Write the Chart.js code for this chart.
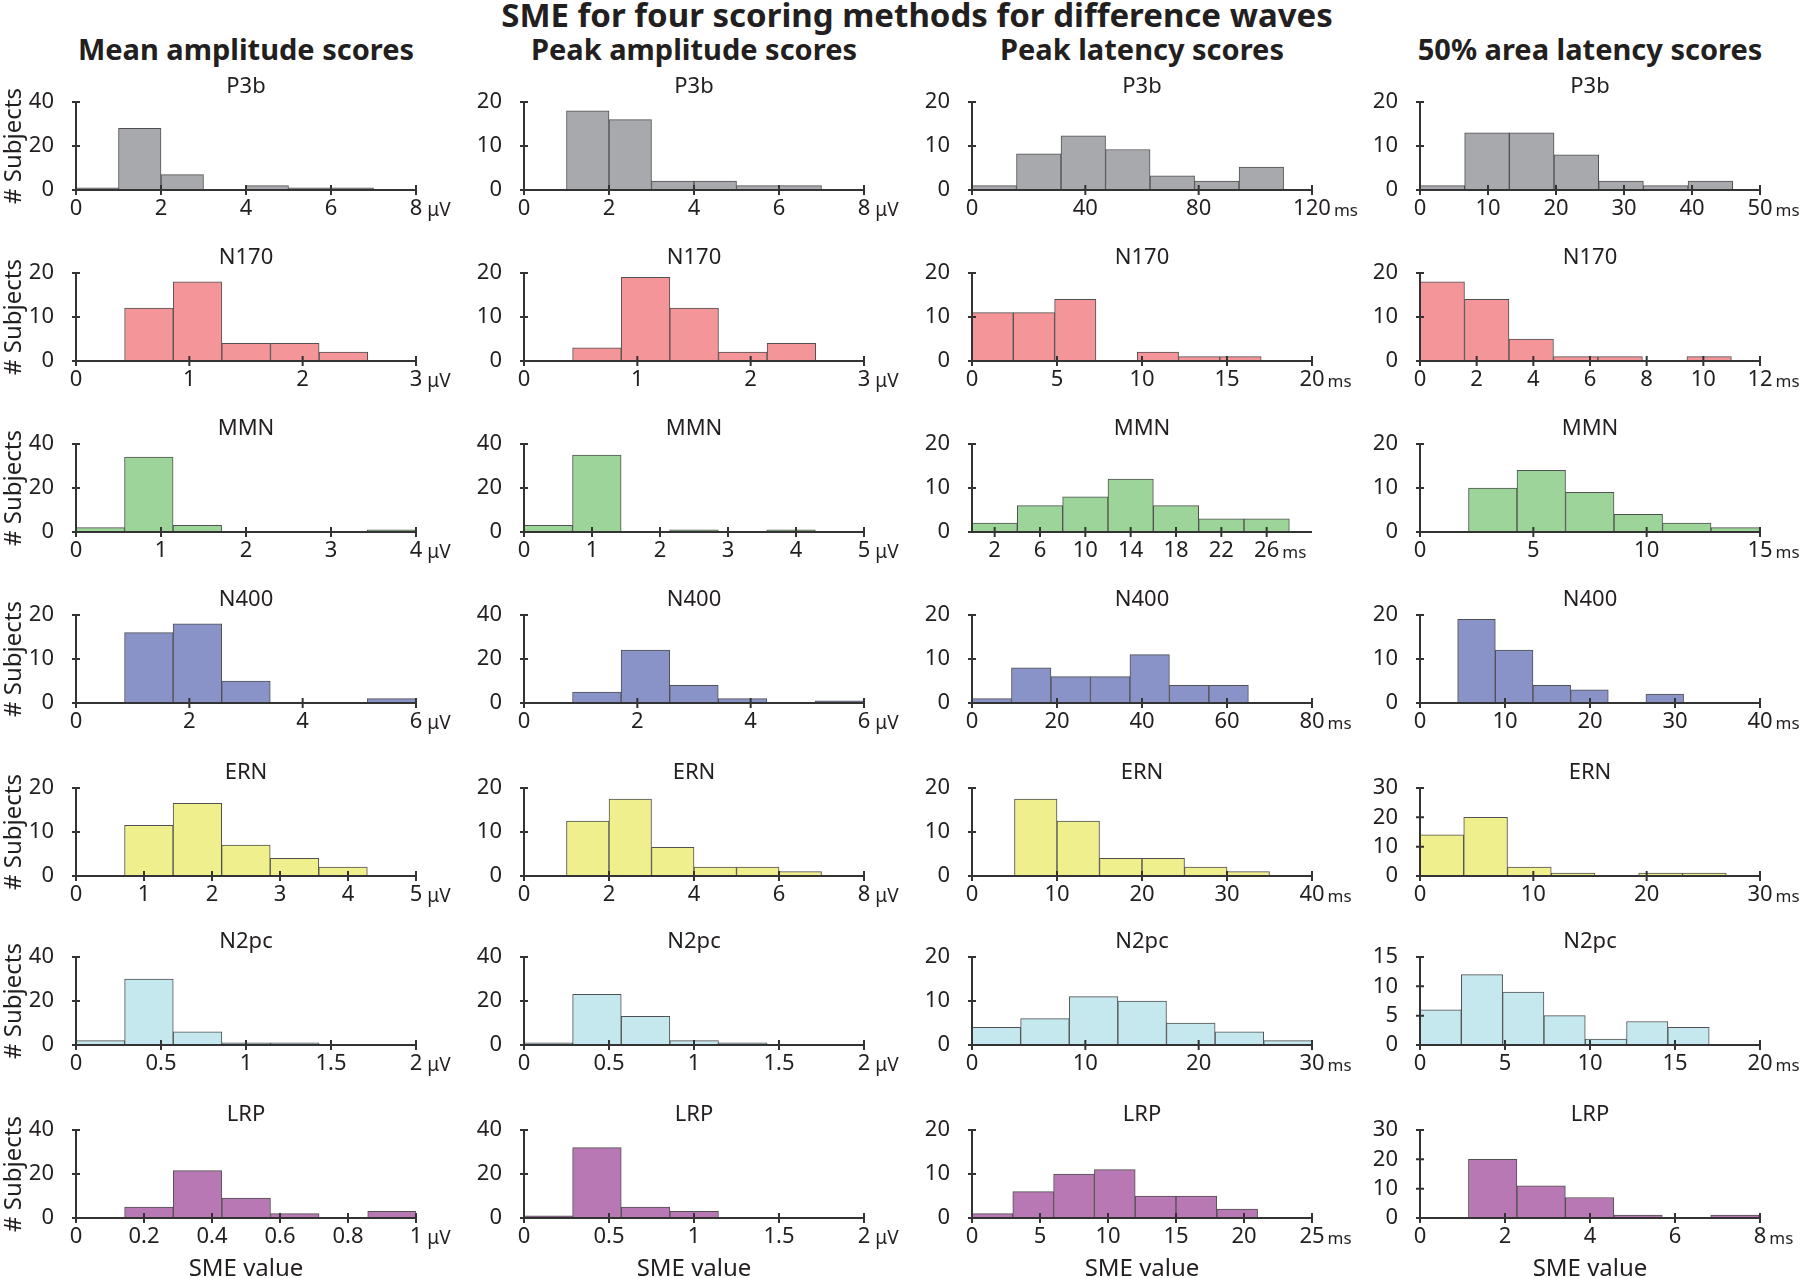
<!DOCTYPE html>
<html>
<head>
<meta charset="utf-8">
<script src="https://cdn.jsdelivr.net/npm/chart.js@4.4.0/dist/chart.umd.min.js"></script>
<style>
  body { margin: 0; background: #fff; }
  #page { position: relative; width: 1800px; height: 1278px; overflow: hidden;
          font-family: 'Noto Sans', sans-serif; color: #231f20; }
  .lbl { position: absolute; text-align: center; white-space: nowrap; font-weight: bold; }
  .panel { position: absolute; }
</style>
</head>
<body>
<div id="page">
  <div class="lbl" style="left:317px; top:-2px; width:1200px; font-size:33px; line-height:33px;">SME for four scoring methods for difference waves</div>
</div>
<script>
/* =======================
   Data
======================= */
const components = ["P3b", "N170", "MMN", "N400", "ERN", "N2pc", "LRP"];
const componentColors = ["#a7a9ac", "#f4959a", "#9dd49a", "#8a93c8", "#f0ef8d", "#c4e8ee", "#b878b3"];
const methods = ["Mean amplitude scores", "Peak amplitude scores", "Peak latency scores", "50% area latency scores"];
const methodUnits = ["μV", "μV", "ms", "ms"];

// Mean amplitude (bins start at 0)
const meanAmpBinWidth = [1, 0.429, 0.571, 0.857, 0.714, 0.286, 0.143];
const meanAmpCounts = [
  [1, 28, 7, 0, 2, 1, 1],
  [0, 12, 18, 4, 4, 2, 0],
  [2, 34, 3, 0, 0, 0, 1],
  [0, 16, 18, 5, 0, 0, 1],
  [0, 11.5, 16.5, 7, 4, 2, 0],
  [2, 30, 6, 1, 1, 0, 0],
  [0, 5, 21.5, 9, 2, 0, 3]
];
const meanAmpXMax = [8, 3, 4, 6, 5, 2, 1];
const meanAmpXTicks = [[0, 2, 4, 6, 8], [0, 1, 2, 3], [0, 1, 2, 3, 4], [0, 2, 4, 6], [0, 1, 2, 3, 4, 5], [0, 0.5, 1, 1.5, 2], [0, 0.2, 0.4, 0.6, 0.8, 1]];
const meanAmpYMax = [40, 20, 40, 20, 20, 40, 40];
const meanAmpYStep = [20, 10, 20, 10, 10, 20, 20];

// Peak amplitude
const peakAmpBinWidth = [1, 0.429, 0.714, 0.857, 1, 0.286, 0.286];
const peakAmpCounts = [
  [0, 18, 16, 2, 2, 1, 1],
  [0, 3, 19, 12, 2, 4, 0],
  [3, 35, 0, 1, 0, 1, 0],
  [0, 5, 24, 8, 2, 0, 1],
  [0, 12.5, 17.5, 6.5, 2, 2, 1],
  [1, 23, 13, 2, 1, 0, 0],
  [1, 32, 5, 3, 0, 0, 0]
];
const peakAmpXMax = [8, 3, 5, 6, 8, 2, 2];
const peakAmpXTicks = [[0, 2, 4, 6, 8], [0, 1, 2, 3], [0, 1, 2, 3, 4, 5], [0, 2, 4, 6], [0, 2, 4, 6, 8], [0, 0.5, 1, 1.5, 2], [0, 0.5, 1, 1.5, 2]];
const peakAmpYMax = [20, 20, 40, 40, 20, 40, 40];
const peakAmpYStep = [10, 10, 20, 20, 10, 20, 20];

// Peak latency
const peakLatBinWidth = [15.71, 2.43, 4, 9.29, 5, 4.29, 3];
const peakLatCounts = [
  [1, 8.2, 12.3, 9.2, 3.2, 2, 5.2],
  [11, 11, 14, 0, 2, 1, 1],
  [2, 6, 8, 12, 6, 3, 3],
  [1, 8, 6, 6, 11, 4, 4],
  [0, 17.5, 12.5, 4, 4, 2, 1],
  [4, 6, 11, 10, 5, 3, 1],
  [1, 6, 10, 11, 5, 5, 2]
];
const peakLatXMax = [120, 20, 30, 80, 40, 30, 25];
const peakLatXTicks = [[0, 40, 80, 120], [0, 5, 10, 15, 20], [2, 6, 10, 14, 18, 22, 26], [0, 20, 40, 60, 80], [0, 10, 20, 30, 40], [0, 10, 20, 30], [0, 5, 10, 15, 20, 25]];
const peakLatYMax = [20, 20, 20, 20, 20, 20, 20];
const peakLatYStep = [10, 10, 10, 10, 10, 10, 10];

// 50% area latency
const areaLatBinWidth = [6.57, 1.57, 2.14, 4.43, 3.86, 2.43, 1.14];
const areaLatCounts = [
  [1, 13, 13, 8, 2, 1, 2],
  [18, 14, 5, 1, 1, 0, 1],
  [0, 10, 14, 9, 4, 2, 1],
  [0, 19, 12, 4, 3, 0, 2],
  [14, 20, 3, 1, 0, 1, 1],
  [6, 12, 9, 5, 1, 4, 3],
  [0, 20, 11, 7, 1, 0, 1]
];
const areaLatXMax = [50, 12, 15, 40, 30, 20, 8];
const areaLatXTicks = [[0, 10, 20, 30, 40, 50], [0, 2, 4, 6, 8, 10, 12], [0, 5, 10, 15], [0, 10, 20, 30, 40], [0, 10, 20, 30], [0, 5, 10, 15, 20], [0, 2, 4, 6, 8]];
const areaLatYMax = [20, 20, 20, 20, 30, 15, 30];
const areaLatYStep = [10, 10, 10, 10, 10, 5, 10];

const methodData = [
  { binWidth: meanAmpBinWidth, counts: meanAmpCounts, xMax: meanAmpXMax, xTicks: meanAmpXTicks, yMax: meanAmpYMax, yStep: meanAmpYStep },
  { binWidth: peakAmpBinWidth, counts: peakAmpCounts, xMax: peakAmpXMax, xTicks: peakAmpXTicks, yMax: peakAmpYMax, yStep: peakAmpYStep },
  { binWidth: peakLatBinWidth, counts: peakLatCounts, xMax: peakLatXMax, xTicks: peakLatXTicks, yMax: peakLatYMax, yStep: peakLatYStep },
  { binWidth: areaLatBinWidth, counts: areaLatCounts, xMax: areaLatXMax, xTicks: areaLatXTicks, yMax: areaLatYMax, yStep: areaLatYStep }
];

/* =======================
   Layout
======================= */
const TEXT_COLOR = "#231f20";
const AXIS_COLOR = "#333333";
const BAR_EDGE = "#505050";
const FONT = "'Noto Sans', sans-serif";
const COL_LEFT = [0, 448, 896, 1344];
const PLOT_TOP = [102, 273, 444, 615, 788, 957, 1130];
const PLOT_H = 88;
const PLOT_W = 340;
const Y_W = 76;
const TOP_PAD = 42;
const CANVAS_W = 480;
const TICK_FONT = 22;

Chart.defaults.font.family = FONT;
Chart.defaults.color = TEXT_COLOR;
Chart.defaults.animation = false;

const page = document.getElementById("page");

// column headings
methods.forEach((m, c) => {
  const d = document.createElement("div");
  d.className = "lbl";
  d.textContent = m;
  d.style.left = (COL_LEFT[c] + Y_W + PLOT_W / 2 - 250) + "px";
  d.style.width = "500px";
  d.style.top = "34px";
  d.style.fontSize = "29px";
  d.style.lineHeight = "29px";
  page.appendChild(d);
});

// panel title, axes with ticks crossing the line (drawn over the bars), unit text
function makeAxesPlugin(title, unit) {
  return {
    id: "crossAxes",
    afterDatasetsDraw(chart) {
      const { ctx, chartArea: a, scales: { x, y } } = chart;
      const y0 = y.getPixelForValue(0);
      ctx.save();
      ctx.strokeStyle = AXIS_COLOR;
      ctx.lineWidth = 2;
      ctx.beginPath();
      ctx.moveTo(a.left - 1, y0);
      ctx.lineTo(a.right, y0);
      ctx.moveTo(a.left, a.top);
      ctx.lineTo(a.left, y0);
      x.ticks.forEach(t => {
        const p = x.getPixelForValue(t.value);
        ctx.moveTo(p, y0 - 5);
        ctx.lineTo(p, y0 + 5);
      });
      y.ticks.forEach(t => {
        const p = y.getPixelForValue(t.value);
        ctx.moveTo(a.left - 4, p);
        ctx.lineTo(a.left + 4, p);
      });
      ctx.stroke();

      ctx.fillStyle = TEXT_COLOR;
      ctx.textBaseline = "middle";

      // panel title
      ctx.font = "22px " + FONT;
      ctx.textAlign = "center";
      ctx.fillText(title, (a.left + a.right) / 2, a.top - 15);

      // unit after the last tick label
      const last = x.ticks[x.ticks.length - 1];
      const px = x.getPixelForValue(last.value);
      ctx.font = TICK_FONT + "px " + FONT;
      const w = ctx.measureText(String(last.value)).width;
      const isMs = unit === "ms";
      ctx.font = (isMs ? 17 : 19) + "px " + FONT;
      ctx.textAlign = "left";
      ctx.fillText(unit, px + w / 2 + (isMs ? 3 : 5), y0 + 6 + 13 + 2);
      ctx.restore();
    }
  };
}

function makePanel(col, row) {
  const m = methodData[col];
  const isLast = row === components.length - 1;
  const xH = isLast ? 66 : 45;

  const div = document.createElement("div");
  div.className = "panel";
  div.style.left = COL_LEFT[col] + "px";
  div.style.top = (PLOT_TOP[row] - TOP_PAD) + "px";
  const canvas = document.createElement("canvas");
  canvas.width = CANVAS_W;
  canvas.height = TOP_PAD + PLOT_H + xH;
  div.appendChild(canvas);
  page.appendChild(div);

  const w = m.binWidth[row];
  const bars = m.counts[row].map((c, i) => ({ x: (i + 0.5) * w, y: c }));

  new Chart(canvas, {
    type: "bar",
    data: {
      datasets: [{
        data: bars,
        backgroundColor: componentColors[row],
        borderColor: BAR_EDGE,
        borderWidth: 1,
        barThickness: "flex",
        barPercentage: 1,
        categoryPercentage: 1
      }]
    },
    options: {
      responsive: false,
      layout: { padding: { left: 0, right: CANVAS_W - Y_W - PLOT_W, top: TOP_PAD, bottom: 0 } },
      plugins: {
        legend: { display: false },
        tooltip: { enabled: false },
        title: { display: false }
      },
      scales: {
        x: {
          type: "linear",
          min: 0,
          max: m.xMax[row],
          offset: false,
          grid: { display: false, drawTicks: false, offset: false },
          border: { display: false },
          afterBuildTicks: s => { s.ticks = m.xTicks[row].map(v => ({ value: v })); },
          ticks: { font: { size: TICK_FONT }, padding: 6, maxRotation: 0, autoSkip: false, callback: v => String(v) },
          title: { display: isLast, text: "SME value", font: { size: 24 }, padding: 0 },
          afterFit: s => { s.height = xH; }
        },
        y: {
          min: 0,
          max: m.yMax[row],
          grid: { display: false, drawTicks: false },
          border: { display: false },
          ticks: { stepSize: m.yStep[row], autoSkip: false, font: { size: TICK_FONT }, padding: 22, callback: v => String(v) },
          title: { display: col === 0, text: "# Subjects", font: { size: 24 }, padding: 0 },
          afterFit: s => { s.width = Y_W; }
        }
      }
    },
    plugins: [makeAxesPlugin(components[row], methodUnits[col])]
  });
}

for (let c = 0; c < methods.length; c++) {
  for (let r = 0; r < components.length; r++) {
    makePanel(c, r);
  }
}
</script>
</body>
</html>
